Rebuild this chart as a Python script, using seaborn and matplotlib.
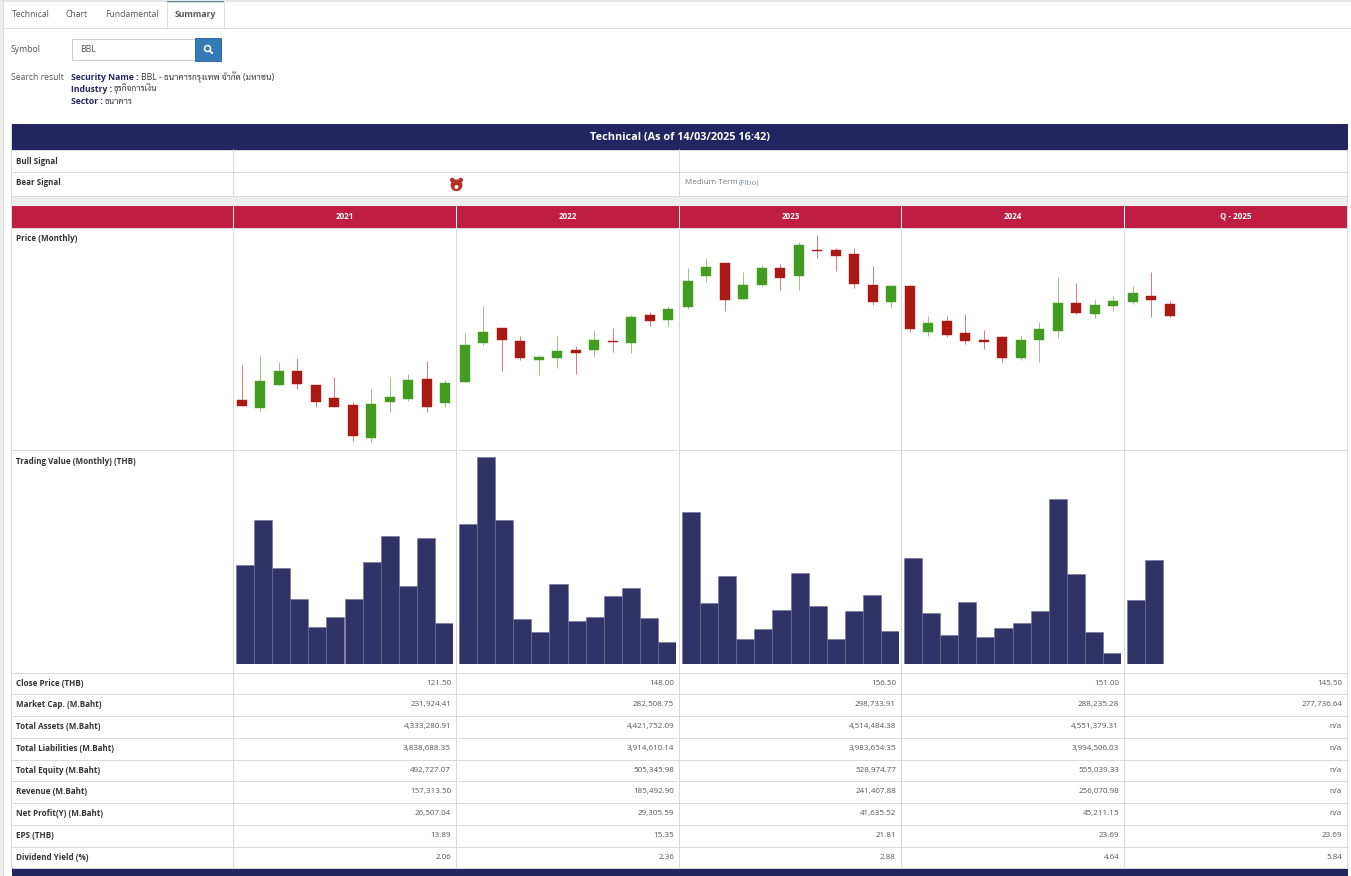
import matplotlib
matplotlib.use('Agg')
import matplotlib.pyplot as plt
import pandas as pd
import seaborn as sns
from matplotlib.patches import Circle, Rectangle

W, H = 1351, 876

YEARS = ['2021', '2022', '2023', '2024', 'Q - 2025']
MONTHS = ['Jan', 'Feb', 'Mar', 'Apr', 'May', 'Jun', 'Jul', 'Aug', 'Sep', 'Oct', 'Nov', 'Dec']

# OHLC, per year
open_2021 = [115.3, 112.4, 120.7, 125.9, 120.9, 116.0, 113.5, 101.8, 114.8, 115.9, 123.1, 114.3]
high_2021 = [127.9, 131.1, 128.9, 130.4, 120.9, 123.5, 114.5, 119.5, 123.5, 124.6, 129.5, 122.5]
low_2021 = [113.4, 111.5, 120.7, 119.5, 113.0, 112.9, 100.5, 100.2, 111.2, 114.9, 111.2, 113.0]
close_2021 = [113.4, 122.1, 125.9, 121.3, 114.8, 112.9, 102.3, 113.9, 116.6, 122.5, 112.9, 121.5]

open_2022 = [122.0, 135.9, 141.2, 136.5, 129.9, 130.4, 133.4, 133.3, 136.6, 135.9, 145.8, 144.3]
high_2022 = [139.4, 149.1, 141.2, 138.3, 131.5, 138.3, 134.7, 140.4, 141.2, 145.8, 146.9, 149.1]
low_2022 = [122.0, 135.0, 125.9, 129.9, 124.5, 126.9, 124.9, 131.0, 132.8, 132.3, 142.1, 142.1]
close_2022 = [135.0, 139.9, 136.9, 130.4, 131.0, 132.9, 132.3, 137.0, 136.2, 145.4, 143.8, 148.0]

open_2023 = [148.8, 159.9, 164.8, 151.7, 156.8, 162.9, 159.9, 169.5, 169.3, 167.9, 156.9, 150.8]
high_2023 = [162.8, 166.4, 164.8, 161.3, 163.8, 164.3, 172.1, 174.9, 169.9, 169.9, 163.5, 156.9]
low_2023 = [148.0, 158.0, 147.5, 151.7, 156.4, 155.0, 155.0, 166.5, 161.8, 155.8, 149.4, 148.5]
close_2023 = [158.3, 163.4, 151.2, 156.9, 162.9, 159.4, 171.3, 169.1, 167.3, 157.2, 150.8, 156.5]

open_2024 = [156.4, 139.7, 143.9, 139.4, 137.0, 137.9, 130.4, 136.9, 140.2, 150.4, 146.2, 149.2]
high_2024 = [156.9, 145.5, 145.5, 146.3, 140.4, 138.3, 138.4, 143.4, 159.5, 157.4, 151.8, 152.7]
low_2024 = [140.0, 138.5, 137.9, 135.7, 133.8, 129.2, 129.9, 129.2, 137.8, 146.4, 145.0, 147.5]
close_2024 = [140.9, 143.0, 138.8, 136.7, 136.4, 130.4, 137.0, 141.1, 150.4, 146.8, 149.4, 151.0]

open_2025 = [150.8, 152.8, 149.9]
high_2025 = [156.3, 161.3, 150.9]
low_2025 = [150.0, 145.4, 145.1]
close_2025 = [154.0, 151.2, 145.5]

# monthly trading value, scale not printed in the source
value_2021 = [99, 144.3, 96.3, 65.7, 37.7, 47, 65.7, 102.3, 128, 78.3, 126.3, 41]
value_2022 = [140.3, 207.7, 144.3, 45.7, 32.3, 80.3, 43.7, 47.7, 68, 76, 46.3, 22.3]
value_2023 = [152, 61.7, 88.3, 25.7, 35.7, 54.3, 91, 58.3, 25.7, 53.7, 69, 33.7]
value_2024 = [106.3, 51, 29.7, 62.3, 27, 36.3, 41.7, 53.7, 165, 90.3, 32.3, 11]
value_2025 = [64.3, 104]

# table rows
ROW_LABELS = ['Close Price (THB)', 'Market Cap. (M.Baht)', 'Total Assets (M.Baht)',
              'Total Liabilities (M.Baht)', 'Total Equity (M.Baht)', 'Revenue (M.Baht)',
              'Net Profit(Y) (M.Baht)', 'EPS (THB)', 'Dividend Yield (%)']
col_2021 = ['121.50', '231,924.41', '4,333,280.91', '3,838,688.35', '492,727.07', '157,313.50', '26,507.04', '13.89', '2.06']
col_2022 = ['148.00', '282,508.75', '4,421,752.09', '3,914,610.14', '505,345.98', '185,492.90', '29,305.59', '15.35', '2.36']
col_2023 = ['156.50', '298,733.91', '4,514,484.38', '3,983,654.35', '528,974.77', '241,407.88', '41,635.52', '21.81', '2.88']
col_2024 = ['151.00', '288,235.28', '4,551,379.31', '3,994,506.03', '555,039.33', '256,070.98', '45,211.15', '23.69', '4.64']
col_2025 = ['145.50', '277,736.64', 'n/a', 'n/a', 'n/a', 'n/a', 'n/a', '23.69', '5.84']

NAVY = '#232560'
CRIMSON = '#bf1e42'
GRID = '#d9d9d9'
BAR = '#313366'
GREEN = '#439c20'
RED = '#aa1914'
BODY = '#555555'
DARK = '#333333'
PX = 0.72  # one pixel in points at dpi 100

sns.set_theme(style='white')
plt.rcParams['font.family'] = ['Open Sans', 'Sarabun', 'Noto Sans Thai', 'DejaVu Sans']

fig = plt.figure(figsize=(W / 100, H / 100), dpi=100, facecolor='white')

# page chrome drawn in pixel coordinates
bg = fig.add_axes([0, 0, 1, 1])
bg.set_xlim(0, W)
bg.set_ylim(H, 0)
bg.axis('off')


def box(x0, y0, x1, y1, fc, ec='none', lw=0.0, z=1):
    bg.add_patch(Rectangle((x0, y0), x1 - x0, y1 - y0, facecolor=fc, edgecolor=ec, linewidth=lw, zorder=z))


def label(x, y, s, size=5.8, color=BODY, weight='normal', ha='left'):
    bg.text(x, y + 0.7, s, fontsize=size, color=color, fontweight=weight, ha=ha, va='center', zorder=5)


def hline(y, x0=11.7, x1=1347.5, color=GRID):
    bg.plot([x0, x1], [y, y], color=color, lw=PX, zorder=2, solid_capstyle='butt')


def vline(x, y0, y1, color=GRID):
    bg.plot([x, x], [y0, y1], color=color, lw=PX, zorder=2, solid_capstyle='butt')


# left strip and top rule
box(0, 0, 3, H, '#eeeeee')
box(0, 0, W, 1.5, '#e6e6e6')
vline(3, 0, H, '#dddddd')

# tabs
hline(28, 3, W, '#dddddd')
box(167, 1.5, 223.5, 28, 'white', '#dddddd', PX, z=3)
box(167, 1, 223.5, 2, '#5b8797', z=4)
label(12, 14, 'Technical', 6.2)
label(66, 14, 'Chart', 6.2)
label(105, 14, 'Fundamental', 6.2)
label(175, 14, 'Summary', 6.2, BODY, 'bold')

# search form
label(11, 48.5, 'Symbol', 6.2)
box(71.5, 38.5, 195, 59.5, 'white', '#cccccc', PX)
label(80, 48.5, 'BBL', 6.2)
box(195, 38, 221, 60.5, '#337ab7', '#2e6da4', PX)
bg.add_patch(Circle((207.5, 48.5), 3, facecolor='none', edgecolor='white', linewidth=1.1, zorder=5))
bg.plot([209.7, 212.3], [50.7, 53.3], color='white', lw=1.3, zorder=5)

label(11, 76.5, 'Search result', 6.2)
label(71, 76.5, 'Security Name :', 6.2, NAVY, 'bold')
label(141, 76.5, 'BBL - ธนาคารกรุงเทพ จำกัด (มหาชน)', 6.2, DARK)
label(71, 88.5, 'Industry :', 6.2, NAVY, 'bold')
label(114, 88.5, 'ธุรกิจการเงิน', 6.2, DARK)
label(71, 100.5, 'Sector :', 6.2, NAVY, 'bold')
label(105, 100.5, 'ธนาคาร', 6.2, DARK)

# table bands
box(11.7, 124, 1347.5, 149.5, NAVY)
label(680, 136.5, 'Technical (As of 14/03/2025 16:42)', 7.8, 'white', 'bold', 'center')
box(11.7, 196, 1347.5, 206, '#eeeeee')
box(11.7, 206, 1347.5, 227.5, CRIMSON)
box(11.7, 868, 1347.5, H, NAVY)

# integer values land on the pixel the reference uses once agg snaps them
COL_EDGES = [233, 456, 679, 901, 1124, 1347]
ROW_LINES = [673, 694, 716, 738, 760, 781, 803, 825, 847, 868]

for y in [150, 172, 196, 228, 450] + ROW_LINES:
    hline(y)
vline(11.4, 124, 868)
vline(1347, 149, 868)
vline(233, 149, 196)
vline(679, 149, 196)
for x in COL_EDGES[:-1]:
    vline(x, 228, 868)
    bg.plot([x, x], [206, 228], color='white', lw=PX, zorder=2)

label(16, 160.5, 'Bull Signal', 5.8, DARK, 'bold')
label(16, 181.5, 'Bear Signal', 5.8, DARK, 'bold')
label(685, 182, 'Medium Term', 5.8, '#777777')
label(739, 182, '(Fibo)', 5.8, '#7d8fb3')

# bear signal icon
ICON = '#b5302a'
bg.add_patch(Circle((452.3, 180), 1.6, color=ICON, zorder=4))
bg.add_patch(Circle((460.7, 180), 1.6, color=ICON, zorder=4))
bg.add_patch(Circle((456.5, 185.3), 5.2, color=ICON, zorder=5))
bg.add_patch(Circle((456.5, 187), 1.2, color='white', zorder=6))

for x0, x1, year in zip(COL_EDGES[:-1], COL_EDGES[1:], YEARS):
    label((x0 + x1) / 2 + 0.5, 215.7, year, 5.8, 'white', 'bold', 'center')

label(16, 237.5, 'Price (Monthly)', 5.8, DARK, 'bold')
label(16, 460.5, 'Trading Value (Monthly) (THB)', 5.8, DARK, 'bold')

columns = [col_2021, col_2022, col_2023, col_2024, col_2025]
for i, name in enumerate(ROW_LABELS):
    yc = (ROW_LINES[i] + ROW_LINES[i + 1]) / 2 - 0.75
    label(16, yc, name, 5.8, DARK, 'bold')
    for col, right in zip(columns, COL_EDGES[1:]):
        label(right - 5, yc, col[i], 5.8, BODY, 'normal', 'right')


def px_axes(x0, y0, x1, y1):
    ax = fig.add_axes([x0 / W, 1 - y1 / H, (x1 - x0) / W, (y1 - y0) / H])
    ax.patch.set_alpha(0)
    ax.axis('off')
    return ax


def draw_candles(ax, o, h, l, c):
    df = pd.DataFrame({'month': MONTHS[:len(o)], 'pos': range(len(o)), 'open': o, 'high': h, 'low': l, 'close': c})
    df['span'] = (df['close'] - df['open']).abs()
    df['base'] = df[['open', 'close']].min(axis=1)
    df['up'] = df['close'] > df['open']
    for up, color in [(True, GREEN), (False, RED)]:
        sub = df[df['up'] == up]
        if sub.empty:
            continue
        ax.vlines(sub['pos'], sub['low'], sub['high'], color=color, lw=PX, alpha=0.55, zorder=1)
        sns.barplot(data=sub, x='month', y='span', order=MONTHS, bottom=sub['base'].values, color=color,
                    saturation=1, width=0.54, edgecolor=color, linewidth=0.3, zorder=2, ax=ax)
    ax.set_xlim(-0.5, 11.5)
    ax.set_ylim(97.76, 177.26)
    ax.axis('off')


def draw_values(ax, values):
    df = pd.DataFrame({'month': MONTHS[:len(values)], 'value': values})
    sns.barplot(data=df, x='month', y='value', order=MONTHS, color=BAR, saturation=1, width=1,
                edgecolor='#6f7098', linewidth=0.4, ax=ax)
    ax.set_xlim(-0.5, 11.5)
    ax.set_ylim(0, 207.7)
    ax.axis('off')


ohlc = [
    (open_2021, high_2021, low_2021, close_2021),
    (open_2022, high_2022, low_2022, close_2022),
    (open_2023, high_2023, low_2023, close_2023),
    (open_2024, high_2024, low_2024, close_2024),
    (open_2025, high_2025, low_2025, close_2025),
]
for left, data in zip([232.7, 455.7, 678.7, 900.7, 1123.7], ohlc):
    draw_candles(px_axes(left, 228, left + 222, 449), *data)

values = [value_2021, value_2022, value_2023, value_2024, value_2025]
for left, vals in zip([236, 459, 682, 904, 1127], values):
    draw_values(px_axes(left, 456.6, left + 217, 664.3), vals)

fig.savefig('out.png', dpi=100, facecolor='white')
